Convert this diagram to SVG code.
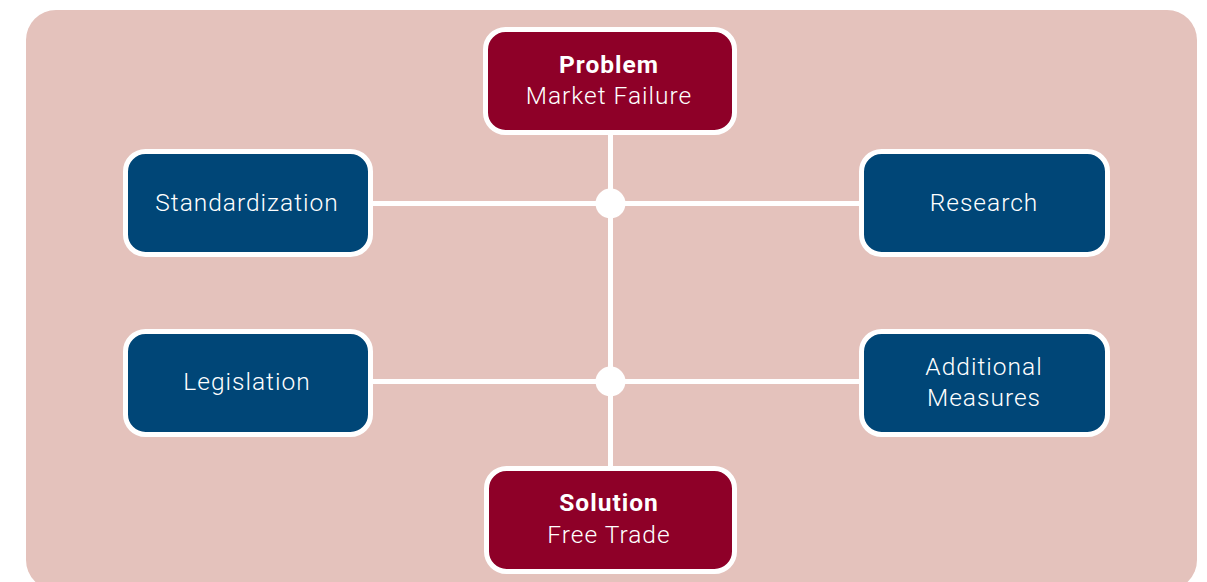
<svg xmlns="http://www.w3.org/2000/svg" width="1207" height="582" viewBox="0 0 1207 582">
<style>
.bg{fill:#E4C2BC}
.red{fill:#8E0028;stroke:#fff;stroke-width:5}
.blue{fill:#004677;stroke:#fff;stroke-width:5}
.t{font-family:Roboto,"Open Sans",sans-serif;font-size:24.5px;font-weight:300;fill:#fff;text-anchor:middle;letter-spacing:1px}
.b{font-weight:bold}
.ln{stroke:#fff;stroke-width:5;fill:none}
</style>
<rect class="bg" x="26" y="10" width="1171" height="580" rx="30"/>
<g id="connectors">
<line class="ln" x1="610.5" y1="133" x2="610.5" y2="468"/>
<line class="ln" x1="371" y1="203.5" x2="860" y2="203.5"/>
<line class="ln" x1="371" y1="381.5" x2="860" y2="381.5"/>
<circle cx="610.5" cy="203.5" r="15" fill="#fff"/>
<circle cx="610.5" cy="381.5" r="15" fill="#fff"/>
</g>
<g id="problem">
<rect class="red" x="485.5" y="29.5" width="249" height="103" rx="20"/>
<text class="t b" x="609" y="73">Problem</text>
<text class="t" x="609" y="104">Market Failure</text>
</g>
<g id="standardization">
<rect class="blue" x="125.5" y="151.5" width="245" height="103" rx="20"/>
<text class="t" x="247" y="211">Standardization</text>
</g>
<g id="research">
<rect class="blue" x="861.5" y="151.5" width="246" height="103" rx="20"/>
<text class="t" x="984" y="211">Research</text>
</g>
<g id="legislation">
<rect class="blue" x="125.5" y="331.5" width="245" height="103" rx="20"/>
<text class="t" x="247" y="390">Legislation</text>
</g>
<g id="additional">
<rect class="blue" x="861.5" y="331.5" width="246" height="103" rx="20"/>
<text class="t" x="984" y="375">Additional</text>
<text class="t" x="984" y="406">Measures</text>
</g>
<g id="solution">
<rect class="red" x="486.5" y="468.5" width="248" height="103" rx="20"/>
<text class="t b" x="609" y="511">Solution</text>
<text class="t" x="609" y="543">Free Trade</text>
</g>
</svg>
